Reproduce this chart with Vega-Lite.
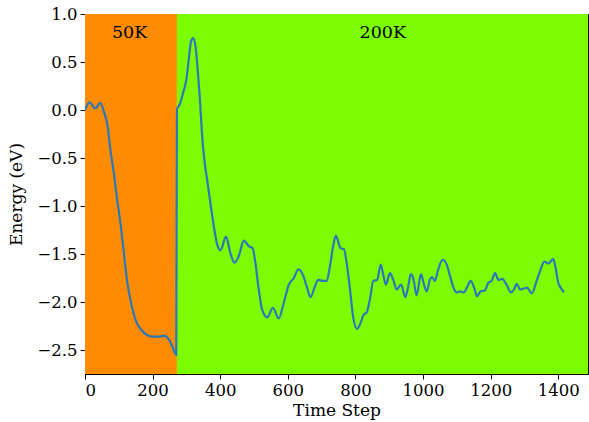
{
  "$schema": "https://vega.github.io/schema/vega-lite/v6.json",
  "width": 503,
  "height": 360,
  "autosize": "none",
  "padding": {"left": 85, "top": 14, "right": 1, "bottom": 48},
  "config": {
    "view": {"stroke": "black", "strokeWidth": 1},
    "font": "DejaVu Serif",
    "axis": {
      "labelFont": "DejaVu Serif", "titleFont": "DejaVu Serif",
      "labelFontSize": 16.5, "titleFontSize": 17, "titleFontWeight": "normal",
      "labelColor": "black", "titleColor": "black",
      "domainColor": "black", "tickColor": "black", "tickSize": 5, "grid": false,
      "labelPadding": 3
    }
  },
  "datasets": {
    "bands": [
      {"start": 0, "end": 272, "phase": "50K"},
      {"start": 272, "end": 1488, "phase": "200K"}
    ],
    "labels": [
      {"t": 132, "e": 0.80, "label": "50K"},
      {"t": 881, "e": 0.80, "label": "200K"}
    ],
    "energy": [
      {"t": 0, "e": 0.0}, {"t": 13, "e": 0.08}, {"t": 31, "e": 0.016}, {"t": 45, "e": 0.075},
      {"t": 57, "e": -0.03}, {"t": 67, "e": -0.17}, {"t": 75, "e": -0.41}, {"t": 85, "e": -0.65},
      {"t": 95, "e": -0.93}, {"t": 105, "e": -1.18}, {"t": 115, "e": -1.49}, {"t": 124, "e": -1.77},
      {"t": 134, "e": -1.97}, {"t": 149, "e": -2.18}, {"t": 169, "e": -2.30}, {"t": 198, "e": -2.36},
      {"t": 218, "e": -2.36}, {"t": 233, "e": -2.35}, {"t": 248, "e": -2.39}, {"t": 258, "e": -2.46},
      {"t": 270, "e": -2.55}, {"t": 272, "e": 0.005}, {"t": 280, "e": 0.057}, {"t": 292, "e": 0.20},
      {"t": 300, "e": 0.32}, {"t": 307, "e": 0.53}, {"t": 314, "e": 0.72}, {"t": 320, "e": 0.75},
      {"t": 327, "e": 0.66}, {"t": 334, "e": 0.39}, {"t": 340, "e": 0.11}, {"t": 346, "e": -0.24},
      {"t": 353, "e": -0.52}, {"t": 361, "e": -0.72}, {"t": 371, "e": -0.97}, {"t": 381, "e": -1.21},
      {"t": 391, "e": -1.40}, {"t": 401, "e": -1.46}, {"t": 417, "e": -1.32}, {"t": 430, "e": -1.49},
      {"t": 442, "e": -1.59}, {"t": 455, "e": -1.52}, {"t": 470, "e": -1.36}, {"t": 485, "e": -1.42},
      {"t": 496, "e": -1.44}, {"t": 504, "e": -1.59}, {"t": 514, "e": -1.87}, {"t": 524, "e": -2.08},
      {"t": 539, "e": -2.16}, {"t": 556, "e": -2.06}, {"t": 573, "e": -2.17}, {"t": 588, "e": -2.01},
      {"t": 603, "e": -1.82}, {"t": 618, "e": -1.75}, {"t": 631, "e": -1.66}, {"t": 645, "e": -1.72},
      {"t": 656, "e": -1.84}, {"t": 667, "e": -1.95}, {"t": 680, "e": -1.84}, {"t": 690, "e": -1.77},
      {"t": 703, "e": -1.78}, {"t": 715, "e": -1.78}, {"t": 724, "e": -1.64}, {"t": 734, "e": -1.42},
      {"t": 742, "e": -1.31}, {"t": 749, "e": -1.37}, {"t": 756, "e": -1.44}, {"t": 766, "e": -1.45},
      {"t": 774, "e": -1.59}, {"t": 784, "e": -1.87}, {"t": 793, "e": -2.15}, {"t": 805, "e": -2.28},
      {"t": 815, "e": -2.22}, {"t": 825, "e": -2.13}, {"t": 833, "e": -2.11}, {"t": 843, "e": -1.97},
      {"t": 853, "e": -1.78}, {"t": 864, "e": -1.77}, {"t": 875, "e": -1.61}, {"t": 882, "e": -1.71},
      {"t": 890, "e": -1.82}, {"t": 902, "e": -1.70}, {"t": 912, "e": -1.77}, {"t": 922, "e": -1.87},
      {"t": 935, "e": -1.82}, {"t": 948, "e": -1.95}, {"t": 956, "e": -1.84}, {"t": 964, "e": -1.71},
      {"t": 971, "e": -1.75}, {"t": 981, "e": -1.93}, {"t": 994, "e": -1.71}, {"t": 1003, "e": -1.82},
      {"t": 1011, "e": -1.89}, {"t": 1020, "e": -1.77}, {"t": 1027, "e": -1.74}, {"t": 1035, "e": -1.78},
      {"t": 1045, "e": -1.66}, {"t": 1058, "e": -1.56}, {"t": 1070, "e": -1.61}, {"t": 1080, "e": -1.73},
      {"t": 1089, "e": -1.84}, {"t": 1099, "e": -1.90}, {"t": 1109, "e": -1.89}, {"t": 1121, "e": -1.90},
      {"t": 1131, "e": -1.84}, {"t": 1141, "e": -1.78}, {"t": 1151, "e": -1.85}, {"t": 1160, "e": -1.94},
      {"t": 1170, "e": -1.89}, {"t": 1183, "e": -1.88}, {"t": 1193, "e": -1.80}, {"t": 1203, "e": -1.78},
      {"t": 1213, "e": -1.70}, {"t": 1223, "e": -1.77}, {"t": 1234, "e": -1.76}, {"t": 1247, "e": -1.82},
      {"t": 1260, "e": -1.90}, {"t": 1269, "e": -1.87}, {"t": 1277, "e": -1.81}, {"t": 1287, "e": -1.87},
      {"t": 1297, "e": -1.86}, {"t": 1307, "e": -1.85}, {"t": 1322, "e": -1.91}, {"t": 1336, "e": -1.78},
      {"t": 1346, "e": -1.68}, {"t": 1359, "e": -1.58}, {"t": 1371, "e": -1.60}, {"t": 1385, "e": -1.55},
      {"t": 1393, "e": -1.66}, {"t": 1400, "e": -1.80}, {"t": 1407, "e": -1.85}, {"t": 1417, "e": -1.90}
    ]
  },
  "layer": [
    {
      "data": {"name": "bands"},
      "mark": {"type": "rect", "strokeWidth": 0},
      "encoding": {
        "x": {"field": "start", "type": "quantitative",
              "scale": {"domain": [0, 1488], "nice": false, "zero": false},
              "axis": {"values": [0, 200, 400, 600, 800, 1000, 1200, 1400], "format": "d", "title": "Time Step", "titlePadding": 4}},
        "x2": {"field": "end"},
        "color": {"field": "phase", "type": "nominal",
                  "scale": {"domain": ["50K", "200K"], "range": ["#FF8C00", "#7CFC00"]}, "legend": null}
      }
    },
    {
      "data": {"name": "energy"},
      "mark": {"type": "line", "interpolate": "monotone", "color": "#2b78b8", "strokeWidth": 2.2, "clip": true},
      "encoding": {
        "x": {"field": "t", "type": "quantitative"},
        "y": {"field": "e", "type": "quantitative",
              "scale": {"domain": [-2.75, 1.0], "nice": false, "zero": false},
              "axis": {"values": [-2.5, -2.0, -1.5, -1.0, -0.5, 0.0, 0.5, 1.0], "format": ".1f", "title": "Energy (eV)", "titlePadding": 11}}
      }
    },
    {
      "data": {"name": "labels"},
      "mark": {"type": "text", "font": "DejaVu Serif", "fontSize": 17.5, "color": "black", "baseline": "middle", "align": "center"},
      "encoding": {
        "x": {"field": "t", "type": "quantitative"},
        "y": {"field": "e", "type": "quantitative"},
        "text": {"field": "label"}
      }
    }
  ]
}
